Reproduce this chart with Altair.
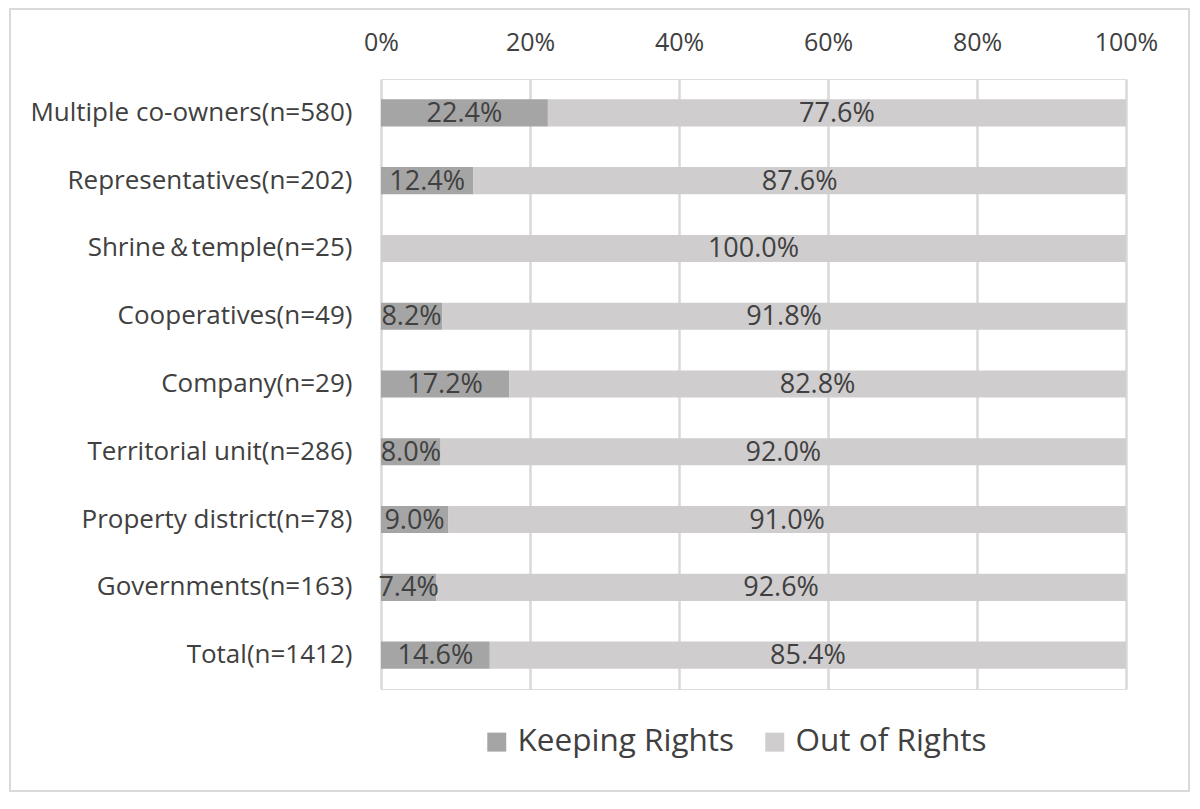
import altair as alt
import pandas as pd

categories = [
    "Multiple co-owners(n=580)",
    "Representatives(n=202)",
    "Shrine＆temple(n=25)",
    "Cooperatives(n=49)",
    "Company(n=29)",
    "Territorial unit(n=286)",
    "Property district(n=78)",
    "Governments(n=163)",
    "Total(n=1412)",
]
keeping = [22.4, 12.4, 0.0, 8.2, 17.2, 8.0, 9.0, 7.4, 14.6]
out_of = [77.6, 87.6, 100.0, 91.8, 82.8, 92.0, 91.0, 92.6, 85.4]
series = ["Keeping Rights", "Out of Rights"]
colors = ["#A5A5A5", "#CFCDCE"]

rows = []
for c, k, o in zip(categories, keeping, out_of):
    rows.append({"cat": c, "series": series[0], "value": k, "ord": 0})
    rows.append({"cat": c, "series": series[1], "value": o, "ord": 1})
df = pd.DataFrame(rows)

FONT = "Open Sans"
TXT = "#404040"
W, H = 745, 610

y_enc = alt.Y("cat:N", sort=categories,
              scale=alt.Scale(paddingInner=0.6, paddingOuter=0.3),
              axis=alt.Axis(title=None, domain=False, ticks=False, labelPadding=29,
                            labelFontSize=26, labelColor=TXT, labelFont=FONT,
                            labelLimit=0))

base = alt.Chart(df).transform_stack(
    stack="value", groupby=["cat"], as_=["v0", "v1"],
    sort=[alt.SortField("ord", order="ascending")]
).transform_calculate(mid="(datum.v0 + datum.v1) / 2",
                      lab="format(datum.value, '.1f') + '%'")

bars = base.mark_bar().encode(
    x=alt.X("v0:Q", scale=alt.Scale(domain=[0, 100]),
            axis=alt.Axis(orient="top", title=None, values=[0, 20, 40, 60, 80, 100],
                          labelExpr="datum.value + '%'", domain=False, ticks=False,
                          labelFlush=False,
                          labelPadding=24, labelFontSize=25, labelColor=TXT, labelFont=FONT,
                          grid=True, gridColor="#D9D9D9", gridWidth=2.5)),
    x2="v1:Q",
    y=y_enc,
    color=alt.Color("series:N", scale=alt.Scale(domain=series, range=colors),
                    legend=alt.Legend(title=None, orient="none", direction="horizontal",
                                      legendX=100, legendY=647, symbolType="square",
                                      symbolSize=360, symbolStrokeWidth=0,
                                      labelFontSize=31.5, labelFont=FONT, labelColor=TXT,
                                      labelLimit=0, labelOffset=5, columnPadding=24)),
)

texts = base.transform_filter("datum.value > 0").mark_text(
    fontSize=27, font=FONT, color=TXT, baseline="middle", align="center", dy=1
).encode(x=alt.X("mid:Q"), y=alt.Y("cat:N", sort=categories), text="lab:N")

border = alt.Chart(pd.DataFrame({"a": [0]})).mark_rect(
    fill=None, stroke="#D9D9D9", strokeWidth=2
).encode(x=alt.value(-371), x2=alt.value(808), y=alt.value(-70), y2=alt.value(712))

chart = alt.layer(bars, texts, border).properties(
    width=W, height=H,
    autosize=alt.AutoSizeParams(type="none"),
    padding={"left": 373, "top": 71, "right": 64, "bottom": 110},
).configure_view(stroke=None).configure(background="white")

chart.save("out.html", embed_options={"renderer": "svg", "actions": False})
